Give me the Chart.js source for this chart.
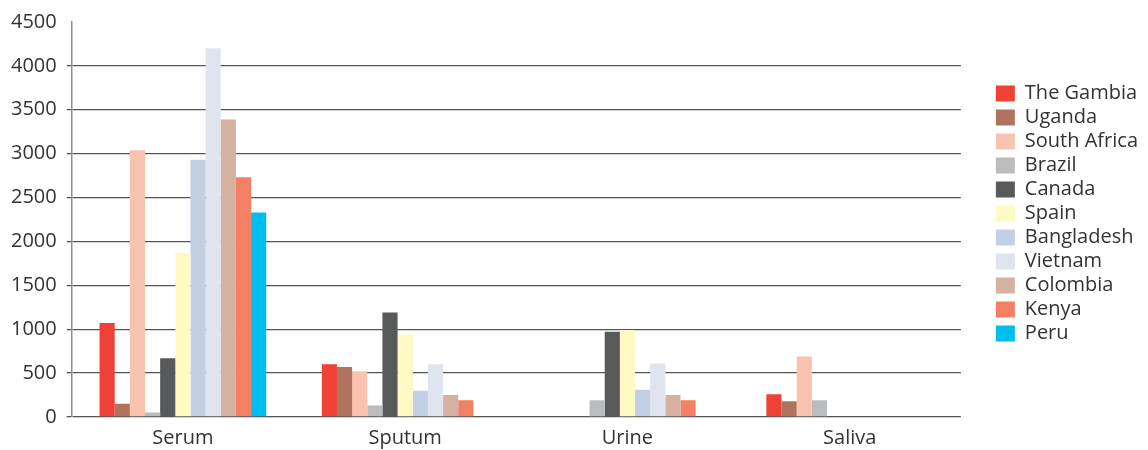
<!DOCTYPE html>
<html>
<head>
<meta charset="utf-8">
<script src="https://cdn.jsdelivr.net/npm/chart.js@4"></script>
<style>
  html, body { margin: 0; padding: 0; background: #fff; }
  #wrap { width: 1148px; height: 450px; }
</style>
</head>
<body>
<div id="wrap"><canvas id="myChart" width="1148" height="450"></canvas></div>
<script>
const categories = ['Serum', 'Sputum', 'Urine', 'Saliva'];
const countries = ['The Gambia', 'Uganda', 'South Africa', 'Brazil', 'Canada', 'Spain',
  'Bangladesh', 'Vietnam', 'Colombia', 'Kenya', 'Peru'];
const colors = ['#EF4136', '#B0745E', '#FAC3B0', '#BBBCBE', '#58595B', '#FFF9C4',
  '#C3CFE2', '#DFE4EF', '#D5B1A1', '#F37F65', '#00BDF0'];

// values per country: Serum, Sputum, Urine, Saliva
const gambia = [1070, 600, null, 260];
const uganda = [150, 570, null, 180];
const southAfrica = [3040, 520, null, 690];
const brazil = [50, 130, 190, 190];
const canada = [670, 1190, 970, null];
const spain = [1870, 940, 990, null];
const bangladesh = [2930, 300, 310, null];
const vietnam = [4200, 600, 610, null];
const colombia = [3390, 250, 250, null];
const kenya = [2730, 190, 190, null];
const peru = [2330, null, null, null];

const yTicks = [0, 500, 1000, 1500, 2000, 2500, 3000, 3500, 4000, 4500];

const seriesValues = [gambia, uganda, southAfrica, brazil, canada, spain,
  bangladesh, vietnam, colombia, kenya, peru];

const fontFamily = '"Open Sans", sans-serif';
const ctx = document.getElementById('myChart');

// nudge the legend block up a little, like the original
const legendShift = {
  id: 'legendShift',
  afterLayout(chart) {
    if (chart.legend) {
      chart.legend.top -= 6;
      chart.legend.bottom -= 6;
    }
  },
};

const myChart = new Chart(ctx, {
  type: 'bar',
  data: {
    labels: categories,
    datasets: countries.map((name, i) => ({
      label: name,
      data: seriesValues[i],
      backgroundColor: colors[i],
      borderWidth: 0,
      categoryPercentage: 0.75,
      barPercentage: 1,
    })),
  },
  options: {
    responsive: false,
    animation: false,
    layout: {
      padding: { left: 1, right: 0, top: 0, bottom: -1 },
    },
    scales: {
      x: {
        grid: { display: false },
        border: { display: false },
        ticks: {
          color: '#333',
          font: { family: fontFamily, size: 20 },
          maxRotation: 0,
          padding: 1,
        },
      },
      y: {
        min: 0,
        max: 4500,
        afterBuildTicks: (scale) => {
          scale.ticks = yTicks.map((v) => ({ value: v }));
        },
        grid: {
          color: (c) => (c.tick && c.tick.value === 4500 ? 'rgba(0,0,0,0)' : '#555'),
          lineWidth: 1.3,
          tickLength: 5,
        },
        border: { display: true, color: '#8f8f8f', width: 1.5 },
        ticks: {
          color: '#333',
          font: { family: fontFamily, size: 20 },
          padding: 10,
          callback: (v) => String(v),
        },
      },
      spacer: {
        position: 'right',
        display: true,
        grid: { display: false, drawTicks: false },
        border: { display: false },
        ticks: { display: false },
        afterFit: (scale) => { scale.width = 31; },
      },
    },
    plugins: {
      legend: {
        position: 'right',
        fullSize: false,
        labels: {
          color: '#333',
          font: { family: fontFamily, size: 20 },
          boxWidth: 19,
          boxHeight: 16,
          padding: 4,
        },
      },
      tooltip: { enabled: false },
    },
  },
  plugins: [legendShift],
});
</script>
</body>
</html>
